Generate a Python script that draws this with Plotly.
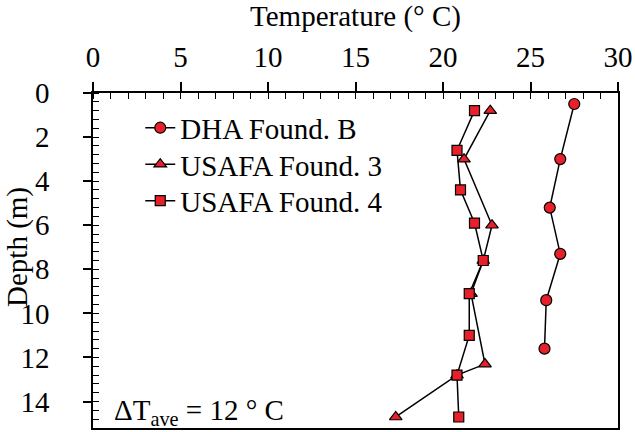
import plotly.graph_objects as go

# Temperature profiles with depth (depth in m, temperature in deg C)
dha_depth = [0.5, 3.0, 5.2, 7.3, 9.4, 11.6]
dha_temp = [27.5, 26.7, 26.1, 26.7, 25.9, 25.8]

usafa3_depth = [0.8, 3.0, 6.0, 7.6, 9.1, 12.3, 12.8, 14.7]
usafa3_temp = [22.7, 21.2, 22.8, 22.3, 21.6, 22.4, 20.8, 17.3]

usafa4_depth = [0.8, 2.6, 4.4, 5.9, 7.6, 9.1, 11.0, 12.8, 14.7]
usafa4_temp = [21.8, 20.8, 21.0, 21.8, 22.3, 21.5, 21.5, 20.8, 20.9]

series_names = ["DHA Found. B", "USAFA Found. 3", "USAFA Found. 4"]
x_ticks = [0, 5, 10, 15, 20, 25, 30]
y_ticks = [0, 2, 4, 6, 8, 10, 12, 14]

FONT = "Liberation Serif"
FS = 29
RED = "#e8202a"

fig = go.Figure()
series = [
    (series_names[0], dha_temp, dha_depth, "circle", "legend"),
    (series_names[1], usafa3_temp, usafa3_depth, "triangle-up", "legend2"),
    (series_names[2], usafa4_temp, usafa4_depth, "square", "legend3"),
]
for name, t, d, sym, leg in series:
    fig.add_trace(go.Scatter(
        x=t, y=d, name=name, mode="lines+markers", legend=leg,
        showlegend=True,
        line=dict(color="black", width=1.5),
        marker=dict(symbol=sym, size=11 if sym != "square" else 10,
                    color=RED, line=dict(color="black", width=1.2)),
    ))

axis_common = dict(showgrid=False, zeroline=False, linecolor="black",
                   linewidth=1.5, tickcolor="black", tickwidth=1.5,
                   tickfont=dict(family=FONT, size=FS, color="black"))

# one legend box per series so the rows sit at a tighter spacing
legend_style = dict(x=0.09, xanchor="left", yanchor="middle",
                    bgcolor="rgba(0,0,0,0)", borderwidth=0,
                    font=dict(family=FONT, size=FS, color="black"))

fig.update_layout(
    width=635, height=432,
    margin=dict(l=93, r=16, t=93, b=2),
    showlegend=True,
    paper_bgcolor="white", plot_bgcolor="white",
    font=dict(family=FONT, size=FS, color="black"),
    xaxis=dict(
        **axis_common, side="top", range=[0, 30], tickvals=x_ticks,
        ticks="outside", ticklen=9, mirror=True, ticklabelstandoff=4,
        minor=dict(ticks="inside", dtick=1, ticklen=6, tickwidth=1.3,
                   tickcolor="black", showgrid=False),
        title=dict(text="Temperature (° C)", font=dict(family=FONT, size=FS),
                   standoff=16),
    ),
    xaxis2=dict(overlaying="x", matches="x", side="top", anchor="y",
                range=[0, 30], tickvals=x_ticks, ticks="inside", ticklen=8,
                tickwidth=1.5, tickcolor="black", showticklabels=False,
                showgrid=False, zeroline=False, showline=False),
    yaxis=dict(
        **axis_common, range=[15.2, 0], tickvals=y_ticks,
        ticks="outside", ticklen=8, mirror=True, ticklabelstandoff=28,
        minor=dict(ticks="inside", dtick=0.4, ticklen=6, tickwidth=1.3,
                   tickcolor="black", showgrid=False),
    ),
    yaxis2=dict(overlaying="y", matches="y", side="left", anchor="x",
                range=[15.2, 0], tickvals=y_ticks, ticks="inside", ticklen=10,
                tickwidth=1.5, tickcolor="black", showticklabels=False,
                showgrid=False, zeroline=False, showline=False),
    legend=dict(**legend_style, y=0.896),
    legend2=dict(**legend_style, y=0.787),
    legend3=dict(**legend_style, y=0.678),
    annotations=[
        dict(text="Depth (m)", xref="paper", yref="paper", x=-0.145, y=0.54,
             xanchor="center", yanchor="middle", textangle=-90,
             showarrow=False, font=dict(family=FONT, size=FS, color="black")),
        dict(text="ΔT<sub>ave</sub> = 12 ° C", xref="paper", yref="paper",
             x=0.036, y=-0.012, xanchor="left", yanchor="bottom",
             showarrow=False, font=dict(family=FONT, size=FS, color="black")),
    ],
)

fig.write_html("out.html")
